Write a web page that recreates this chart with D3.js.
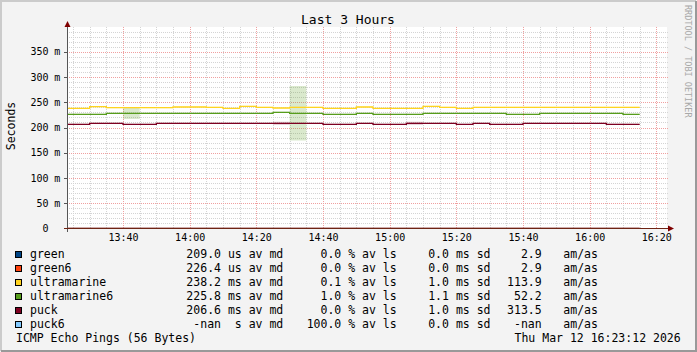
<!DOCTYPE html>
<html lang="en">
<head>
  <meta charset="UTF-8">
  <title>Last 3 Hours</title>
  <script src="https://d3js.org/d3.v7.min.js"></script>
  <style>
    body { margin: 0; background: #f3f3f3; }
    svg { display: block; }
    text { font-family: "DejaVu Sans Mono", monospace; fill: #000; white-space: pre; }
  </style>
</head>
<body>
  <svg id="chart" width="697" height="352"></svg>

  <script>
    // 5 minute steps, last entry closes the final step
    const times = ["13:20","13:25","13:30","13:35","13:40","13:45","13:50","13:55",
      "14:00","14:05","14:10","14:15","14:20","14:25","14:30","14:35","14:40","14:45","14:50","14:55",
      "15:00","15:05","15:10","15:15","15:20","15:25","15:30","15:35","15:40","15:45","15:50","15:55",
      "16:00","16:05","16:10","16:15"];

    // medians in ms
    const green = [0.209,0.209,0.209,0.209,0.209,0.209,0.209,0.209,0.209,0.209,0.209,0.209,0.209,0.209,0.209,0.209,0.209,0.209,
      0.209,0.209,0.209,0.209,0.209,0.209,0.209,0.209,0.209,0.209,0.209,0.209,0.209,0.209,0.209,0.209,0.209];
    const green6 = [0.226,0.226,0.226,0.226,0.226,0.226,0.226,0.226,0.226,0.226,0.226,0.226,0.226,0.226,0.226,0.226,0.226,0.226,
      0.226,0.226,0.226,0.226,0.226,0.226,0.226,0.226,0.226,0.226,0.226,0.226,0.226,0.226,0.226,0.226,0.226];
    const ultramarine = [238.0,238.0,241.2,239.2,239.2,239.2,239.2,240.6,240.6,240.0,238.0,242.0,240.0,238.6,240.0,240.0,238.0,238.0,
      240.6,238.0,238.0,238.0,242.0,240.0,238.0,240.0,240.0,240.0,240.0,240.0,240.0,240.0,240.0,240.0,240.0];
    const ultramarine6 = [226.1,226.1,226.1,228.1,228.1,228.1,228.1,228.1,228.1,228.1,228.1,228.1,228.1,230.1,228.1,228.1,226.1,226.1,
      228.1,226.1,226.1,226.1,228.1,228.1,228.1,228.1,228.1,226.1,226.1,228.1,228.1,228.1,228.1,228.1,226.1];
    const puck = [206.3,206.3,208.3,208.3,206.3,206.3,208.3,208.3,208.3,208.3,208.3,208.3,208.3,208.3,208.3,208.3,206.3,206.3,
      208.3,206.3,206.3,208.3,208.3,208.3,206.3,208.3,206.3,206.3,208.3,208.3,208.3,208.3,208.3,206.3,206.3];

    // standard deviation in ms
    const ultramarineSd = [1.0,1.0,1.0,1.0,1.0,1.0,1.0,1.0,1.0,1.0,1.0,1.0,1.0,1.0,1.0,1.0,1.0,1.0,
      1.0,1.0,1.0,1.0,1.0,1.0,1.0,1.0,1.0,1.0,1.0,1.0,1.0,1.0,1.0,1.0,1.0];
    const ultramarine6Sd = [1.1,1.1,1.1,1.1,11.5,1.1,1.1,1.1,1.1,1.1,1.1,1.1,1.1,1.1,54.0,1.1,1.1,1.1,
      1.1,1.1,1.1,1.1,1.1,1.1,1.1,1.1,1.1,1.1,1.1,1.1,1.1,1.1,1.1,1.1,1.1];
    const puckSd = [1.0,1.0,1.0,1.0,1.0,1.0,1.0,1.0,1.0,1.0,1.0,1.0,1.0,3.0,1.0,1.0,1.0,1.0,
      1.0,1.0,1.0,3.0,1.0,1.0,1.0,1.0,1.0,1.0,1.0,1.0,1.0,1.0,1.0,1.0,1.0];

    const yTicks = [0, 50, 100, 150, 200, 250, 300, 350];
    const xTickLabels = ["13:40","14:00","14:20","14:40","15:00","15:20","15:40","16:00","16:20"];

    const legendNames = ["green", "green6", "ultramarine", "ultramarine6", "puck", "puck6"];
    const legendColors = ["#004586", "#ff420e", "#ffd320", "#579d1c", "#7e0021", "#83caff"];
    const legendMedian = ["209.0 us av md", "226.4 us av md", "238.2 ms av md", "225.8 ms av md", "206.6 ms av md", "-nan  s av md"];
    const legendLoss = ["0.0 % av ls", "0.0 % av ls", "0.1 % av ls", "1.0 % av ls", "0.0 % av ls", "100.0 % av ls"];
    const legendSd = ["0.0 ms sd", "0.0 ms sd", "1.0 ms sd", "1.1 ms sd", "1.0 ms sd", "0.0 ms sd"];
    const legendAmas = ["2.9", "2.9", "113.9", "52.2", "313.5", "-nan"];

    const parseTime = d3.timeParse("%H:%M:%S");
    const parseHM = d3.timeParse("%H:%M");
    const W = 697, H = 352;
    const plot = { left: 67, right: 667, top: 27, bottom: 228.5 };

    const svg = d3.select("#chart");

    const x = d3.scaleTime()
      .domain([parseTime("13:23:12"), parseTime("16:23:12")])
      .range([plot.left, plot.right]);
    const y = d3.scaleLinear().domain([0, 400]).range([plot.bottom, plot.bottom - 202]);

    // image frame
    svg.append("rect").attr("width", W).attr("height", H).attr("fill", "#f3f3f3");
    svg.append("path").attr("d", `M1,${H - 1}V1H${W - 1}`).attr("fill", "none").attr("stroke", "#cbcbcb").attr("stroke-width", 2);
    svg.append("path").attr("d", `M1,${H - 1}H${W - 1}V1`).attr("fill", "none").attr("stroke", "#999").attr("stroke-width", 2);

    svg.append("rect")
      .attr("x", plot.left).attr("y", plot.top)
      .attr("width", plot.right - plot.left).attr("height", plot.bottom - plot.top)
      .attr("fill", "#fff");

    const grid = svg.append("g").attr("shape-rendering", "crispEdges");

    // minor grid
    const minorY = d3.range(10, 400, 10).filter(v => v % 50 !== 0);
    grid.selectAll(".hmin").data(minorY).enter().append("line")
      .attr("x1", plot.left).attr("x2", plot.right + 1)
      .attr("y1", d => Math.round(y(d)) + 0.5).attr("y2", d => Math.round(y(d)) + 0.5)
      .attr("stroke", "#d4d4d4").attr("stroke-dasharray", "1,1");
    const minorX = d3.timeMinute.every(5).range(x.domain()[0], x.domain()[1]).filter(t => t.getMinutes() % 20 !== 0);
    grid.selectAll(".vmin").data(minorX).enter().append("line")
      .attr("y1", plot.top).attr("y2", plot.bottom)
      .attr("x1", d => Math.round(x(d)) + 0.5).attr("x2", d => Math.round(x(d)) + 0.5)
      .attr("stroke", "#d4d4d4").attr("stroke-dasharray", "1,1");

    // major grid
    grid.selectAll(".hmaj").data(yTicks.filter(v => v > 0)).enter().append("line")
      .attr("x1", plot.left).attr("x2", plot.right + 1)
      .attr("y1", d => Math.round(y(d)) + 0.5).attr("y2", d => Math.round(y(d)) + 0.5)
      .attr("stroke", "#f0a0a0").attr("stroke-dasharray", "1,1");
    grid.selectAll(".vmaj").data(xTickLabels).enter().append("line")
      .attr("y1", plot.top).attr("y2", plot.bottom)
      .attr("x1", d => Math.round(x(parseHM(d))) + 0.5).attr("x2", d => Math.round(x(parseHM(d))) + 0.5)
      .attr("stroke", "#f0a0a0").attr("stroke-dasharray", "1,1");

    svg.append("clipPath").attr("id", "clip").append("rect")
      .attr("x", plot.left).attr("y", plot.top)
      .attr("width", plot.right - plot.left).attr("height", plot.bottom - plot.top + 1);

    const dataG = svg.append("g").attr("clip-path", "url(#clip)");

    function steps(vals, sds) {
      return times.map((t, i) => {
        const j = Math.min(i, vals.length - 1);
        return { t: parseHM(t), v: vals[j], sd: sds ? sds[j] : 0 };
      });
    }

    const area = d3.area()
      .x(d => x(d.t))
      .y0(d => y(d.v - d.sd))
      .y1(d => y(d.v + d.sd))
      .curve(d3.curveStepAfter);

    const line = d3.line()
      .x(d => x(d.t))
      .y(d => y(d.v))
      .curve(d3.curveStepAfter);

    const series = [
      { vals: green, sd: null, color: legendColors[0] },
      { vals: green6, sd: null, color: legendColors[1] },
      { vals: ultramarine, sd: ultramarineSd, color: legendColors[2] },
      { vals: ultramarine6, sd: ultramarine6Sd, color: legendColors[3] },
      { vals: puck, sd: puckSd, color: legendColors[4] }
    ];

    series.forEach(s => {
      if (s.sd) {
        dataG.append("path")
          .datum(steps(s.vals, s.sd))
          .attr("d", area)
          .attr("fill", s.color)
          .attr("fill-opacity", 0.22);
      }
    });

    series.forEach(s => {
      dataG.append("path")
        .datum(steps(s.vals, null))
        .attr("d", line)
        .attr("fill", "none")
        .attr("stroke", s.color)
        .attr("stroke-width", 1.3);
    });

    // axes
    const axisG = svg.append("g").attr("shape-rendering", "crispEdges");
    axisG.append("line")
      .attr("x1", plot.left + 0.5).attr("x2", plot.left + 0.5)
      .attr("y1", plot.bottom + 3).attr("y2", plot.top - 2)
      .attr("stroke", "#555");
    axisG.append("line")
      .attr("x1", plot.left - 3).attr("x2", plot.right + 3)
      .attr("y1", 228.5).attr("y2", 228.5)
      .attr("stroke", "#6e2414").attr("stroke-width", 1.5);

    axisG.selectAll(".ytick").data(yTicks.filter(v => v > 0)).enter().append("line")
      .attr("x1", plot.left - 3).attr("x2", plot.left)
      .attr("y1", d => Math.round(y(d)) + 0.5).attr("y2", d => Math.round(y(d)) + 0.5)
      .attr("stroke", "#555");

    svg.append("path")
      .attr("d", `M${plot.left - 2.5},${plot.top}L${plot.left + 0.5},${plot.top - 6}L${plot.left + 3.5},${plot.top}Z`)
      .attr("fill", "#7f0000");
    svg.append("path")
      .attr("d", `M${plot.right + 1},225.5L${plot.right + 7},228.5L${plot.right + 1},231.5Z`)
      .attr("fill", "#7f0000");

    // tick labels
    const yl = svg.append("g").attr("font-size", "10px");
    yl.selectAll(".ynum").data(yTicks).enter().append("text")
      .attr("x", 48.5).attr("y", d => y(d) + 3.5)
      .attr("text-anchor", "end")
      .text(d => d);
    yl.selectAll(".yunit").data(yTicks.filter(v => v > 0)).enter().append("text")
      .attr("x", 54.3).attr("y", d => y(d) + 3.5)
      .text("m");

    svg.append("g").attr("font-size", "10px")
      .selectAll("text").data(xTickLabels).enter().append("text")
      .attr("x", d => x(parseHM(d)) + 0.5).attr("y", 241)
      .attr("text-anchor", "middle")
      .text(d => d);

    // titles
    svg.append("text")
      .attr("x", 348).attr("y", 23.5)
      .attr("text-anchor", "middle")
      .attr("font-size", "13px")
      .text("Last 3 Hours");

    svg.append("text")
      .attr("transform", "translate(15,126) rotate(-90)")
      .attr("text-anchor", "middle")
      .attr("font-size", "11.5px")
      .text("Seconds");

    svg.append("text")
      .attr("transform", "translate(685,5) rotate(90)")
      .attr("font-size", "8.5px")
      .style("fill", "#a8a8a8")
      .text("RRDTOOL / TOBI OETIKER");

    // legend
    const lg = svg.append("g").attr("font-size", "11.5px");
    const rowY = i => 258 + i * 14;

    function legendText(xPos, yPos, str, anchor) {
      lg.append("text")
        .attr("xml:space", "preserve")
        .attr("x", xPos).attr("y", yPos)
        .attr("text-anchor", anchor || "start")
        .text(str);
    }

    legendNames.forEach((name, i) => {
      lg.append("rect")
        .attr("x", 15.5).attr("y", rowY(i) - 6.5)
        .attr("width", 6).attr("height", 6)
        .attr("fill", legendColors[i])
        .attr("stroke", "#000")
        .attr("shape-rendering", "crispEdges");
      legendText(30, rowY(i), name);
      legendText(283.3, rowY(i), legendMedian[i], "end");
      legendText(396.7, rowY(i), legendLoss[i], "end");
      legendText(490.5, rowY(i), legendSd[i], "end");
      legendText(541.7, rowY(i), legendAmas[i], "end");
      legendText(563.3, rowY(i), "am/as");
    });

    legendText(16, rowY(6), "ICMP Echo Pings (56 Bytes)");
    legendText(680.7, rowY(6), "Thu Mar 12 16:23:12 2026", "end");
  </script>
</body>
</html>
